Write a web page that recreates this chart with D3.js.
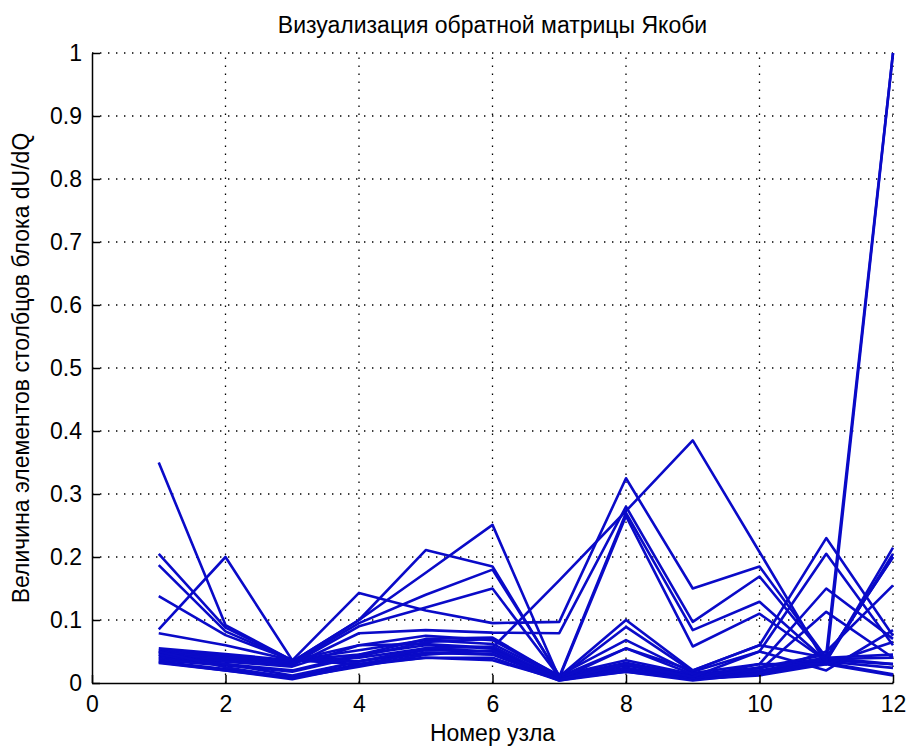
<!DOCTYPE html>
<html>
<head>
<meta charset="utf-8">
<script src="https://cdn.jsdelivr.net/npm/d3@7"></script>
<style>
  body { margin: 0; background: #fff; }
  svg { display: block; }
  text { font-family: "Liberation Sans", Arial, sans-serif; fill: #000; }
</style>
</head>
<body>
<svg width="908" height="749"></svg>
<script>
var nodes = [1, 2, 3, 4, 5, 6, 7, 8, 9, 10, 11, 12];
var xTicks = [0, 2, 4, 6, 8, 10, 12];
var yTicks = [0, 0.1, 0.2, 0.3, 0.4, 0.5, 0.6, 0.7, 0.8, 0.9, 1];

// columns of the dU/dQ block, value per node
var col1  = [0.350, 0.092, 0.036, 0.030, 0.040, 0.036, 0.006, 0.018, 0.006, 0.012, 0.030, 0.012];
var col2  = [0.085, 0.200, 0.036, 0.035, 0.048, 0.045, 0.006, 0.020, 0.006, 0.014, 0.032, 0.014];
var col3  = [0.205, 0.088, 0.036, 0.040, 0.055, 0.050, 0.008, 0.024, 0.008, 0.016, 0.034, 0.024];
var col4  = [0.187, 0.082, 0.036, 0.045, 0.060, 0.055, 0.008, 0.028, 0.010, 0.018, 0.036, 0.030];
var col5  = [0.138, 0.076, 0.036, 0.052, 0.068, 0.062, 0.010, 0.032, 0.012, 0.020, 0.038, 0.040];
var col6  = [0.079, 0.060, 0.036, 0.060, 0.075, 0.068, 0.012, 0.036, 0.014, 0.024, 0.040, 0.045];
var col7  = [0.055, 0.046, 0.036, 0.143, 0.115, 0.095, 0.097, 0.325, 0.150, 0.185, 0.040, 0.030];
var col8  = [0.052, 0.044, 0.034, 0.100, 0.211, 0.185, 0.010, 0.100, 0.020, 0.060, 0.230, 0.075];
var col9  = [0.050, 0.042, 0.034, 0.100, 0.175, 0.251, 0.008, 0.089, 0.018, 0.050, 0.205, 0.060];
var col10 = [0.048, 0.040, 0.032, 0.095, 0.140, 0.180, 0.012, 0.068, 0.016, 0.030, 0.150, 0.070];
var col11 = [0.045, 0.038, 0.030, 0.090, 0.120, 0.150, 0.010, 0.055, 0.014, 0.020, 0.113, 0.040];
var col12 = [0.042, 0.036, 0.028, 0.079, 0.084, 0.080, 0.079, 0.280, 0.097, 0.169, 0.040, 0.200];
var col13 = [0.040, 0.034, 0.026, 0.060, 0.062, 0.056, 0.163, 0.273, 0.385, 0.208, 0.030, 0.065];
var col14 = [0.038, 0.030, 0.020, 0.045, 0.070, 0.072, 0.010, 0.270, 0.084, 0.129, 0.035, 0.215];
var col15 = [0.036, 0.028, 0.018, 0.042, 0.065, 0.070, 0.008, 0.265, 0.058, 0.110, 0.035, 0.205];
var col16 = [0.034, 0.022, 0.010, 0.034, 0.052, 0.050, 0.006, 0.029, 0.008, 0.030, 0.030, 1.000];
var col17 = [0.033, 0.020, 0.008, 0.030, 0.048, 0.046, 0.004, 0.021, 0.006, 0.025, 0.045, 1.000];
var col18 = [0.032, 0.020, 0.006, 0.028, 0.040, 0.040, 0.004, 0.018, 0.004, 0.015, 0.050, 0.155];
var col19 = [0.045, 0.030, 0.012, 0.034, 0.055, 0.058, 0.006, 0.055, 0.020, 0.060, 0.040, 0.200];
var col20 = [0.050, 0.025, 0.008, 0.026, 0.045, 0.052, 0.005, 0.030, 0.010, 0.050, 0.020, 0.084];

var columns = [col1, col2, col3, col4, col5, col6, col7, col8, col9, col10,
               col11, col12, col13, col14, col15, col16, col17, col18, col19, col20];

var svg = d3.select("svg");
var plotLeft = 92, plotRight = 893, plotTop = 53, plotBottom = 683;
var fontSize = 23;

var x = d3.scaleLinear().domain([0, 12]).range([plotLeft, plotRight]);
var y = d3.scaleLinear().domain([0, 1]).range([plotBottom, plotTop]);

// dotted grid
var grid = svg.append("g").attr("stroke", "#000").attr("stroke-width", 1.3)
    .attr("stroke-dasharray", "1.4,6.6");
grid.selectAll(".gx").data(xTicks.filter(function(d) { return d > 0; }))
  .enter().append("line")
    .attr("x1", function(d) { return x(d); }).attr("x2", function(d) { return x(d); })
    .attr("y1", plotBottom).attr("y2", plotTop);
grid.selectAll(".gy").data(yTicks.filter(function(d) { return d > 0; }))
  .enter().append("line")
    .attr("y1", function(d) { return y(d); }).attr("y2", function(d) { return y(d); })
    .attr("x1", plotLeft).attr("x2", plotRight);

// lines
var line = d3.line()
    .x(function(d, i) { return x(nodes[i]); })
    .y(function(d) { return y(d); });

svg.append("g")
  .selectAll("path")
  .data(columns)
  .enter().append("path")
    .attr("d", line)
    .attr("fill", "none")
    .attr("stroke", "#0a0ac8")
    .attr("stroke-width", 2.6)
    .attr("stroke-linejoin", "round");

// axes
var xAxis = d3.axisBottom(x).tickValues(xTicks).tickSize(-8).tickSizeOuter(0).tickPadding(13)
    .tickFormat(d3.format("d"));
var yAxis = d3.axisLeft(y).tickValues(yTicks).tickSize(-8).tickSizeOuter(0).tickPadding(10)
    .tickFormat(function(d) { return String(+d.toFixed(1)); });

var gx = svg.append("g").attr("transform", "translate(0," + plotBottom + ")").call(xAxis);
var gy = svg.append("g").attr("transform", "translate(" + plotLeft + ",0)").call(yAxis);

[gx, gy].forEach(function(g) {
  g.selectAll("path, line").attr("stroke", "#000").attr("stroke-width", 1.5);
  g.selectAll("text").attr("font-size", fontSize).attr("font-family", "Liberation Sans, Arial, sans-serif").attr("fill", "#000");
});

// titles
svg.append("text")
    .attr("x", (plotLeft + plotRight) / 2).attr("y", 33)
    .attr("text-anchor", "middle").attr("font-size", fontSize)
    .text("Визуализация обратной матрицы Якоби");

svg.append("text")
    .attr("x", (plotLeft + plotRight) / 2).attr("y", 741)
    .attr("text-anchor", "middle").attr("font-size", fontSize)
    .text("Номер узла");

svg.append("text")
    .attr("transform", "translate(29," + (plotTop + plotBottom) / 2 + ") rotate(-90)")
    .attr("text-anchor", "middle").attr("font-size", fontSize)
    .text("Величина элементов столбцов блока dU/dQ");
</script>
</body>
</html>
